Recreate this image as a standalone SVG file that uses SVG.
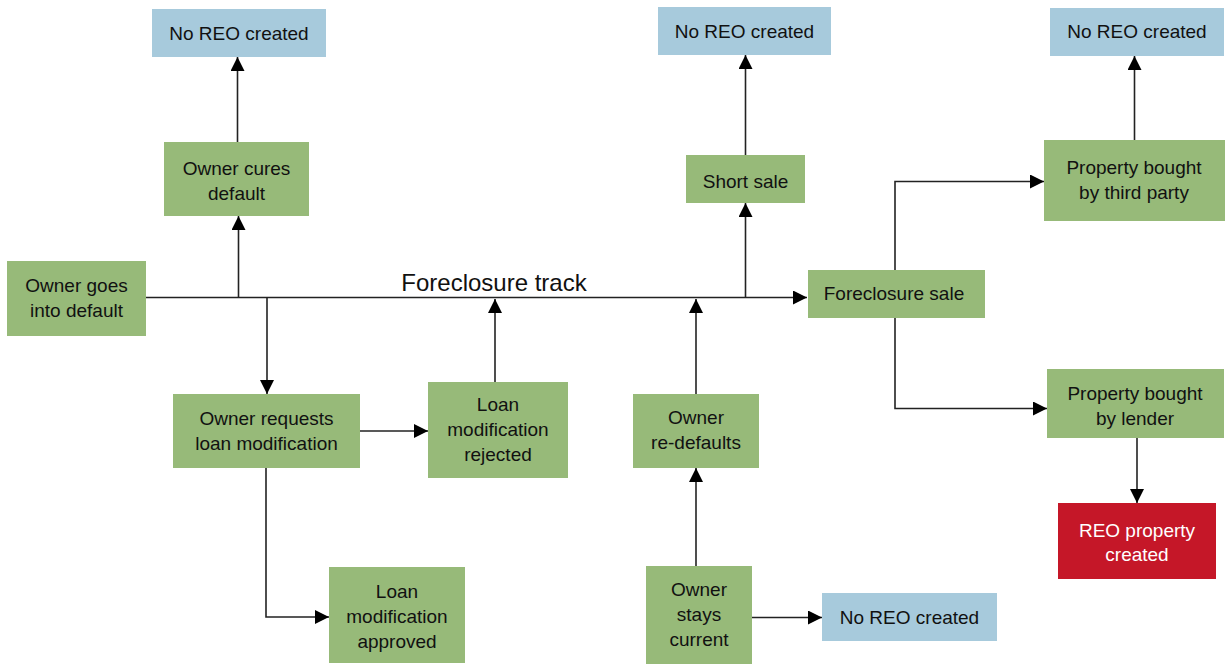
<svg xmlns="http://www.w3.org/2000/svg" width="1225" height="664" viewBox="0 0 1225 664">
<style>
.g{fill:#97ba79}
.b{fill:#a7cadc}
.r{fill:#c51728}
text{font-family:"Liberation Sans",Arial,sans-serif;font-size:19px;fill:#111;text-anchor:middle}
.w{fill:#fff}
.c{fill:none;stroke:#222;stroke-width:1.6}
</style>
<defs>
<marker id="a" markerUnits="userSpaceOnUse" markerWidth="15" markerHeight="15" refX="14" refY="7" orient="auto">
<path d="M0,0 L14,7 L0,14 z" fill="#000"/>
</marker>
</defs>
<rect width="1225" height="664" fill="#fff"/>
<g id="connectors">
<path class="c" d="M146,297.5 H807" marker-end="url(#a)"/>
<path class="c" d="M238.5,297.5 V216" marker-end="url(#a)"/>
<path class="c" d="M237.5,142 V57" marker-end="url(#a)"/>
<path class="c" d="M267,297.5 V394" marker-end="url(#a)"/>
<path class="c" d="M360,431 H428" marker-end="url(#a)"/>
<path class="c" d="M266,468 V617 H329" marker-end="url(#a)"/>
<path class="c" d="M495,382 V299" marker-end="url(#a)"/>
<path class="c" d="M696,394 V299" marker-end="url(#a)"/>
<path class="c" d="M696,566 V468" marker-end="url(#a)"/>
<path class="c" d="M752,617.5 H822" marker-end="url(#a)"/>
<path class="c" d="M745.5,297.5 V203" marker-end="url(#a)"/>
<path class="c" d="M745.5,155 V55" marker-end="url(#a)"/>
<path class="c" d="M895,270 V181.5 H1044" marker-end="url(#a)"/>
<path class="c" d="M895,318 V408.5 H1047" marker-end="url(#a)"/>
<path class="c" d="M1134.5,140 V56" marker-end="url(#a)"/>
<path class="c" d="M1137,438 V503" marker-end="url(#a)"/>
</g>
<text x="494" y="291" style="font-size:24px">Foreclosure track</text>
<g id="noreo1"><rect class="b" x="152" y="9" width="174" height="48"/><text x="239" y="40">No REO created</text></g>
<g id="cures"><rect class="g" x="164" y="142" width="145" height="74"/><text x="236.5" y="175">Owner cures</text><text x="236.5" y="200">default</text></g>
<g id="default"><rect class="g" x="7" y="261" width="139" height="75"/><text x="76.5" y="292">Owner goes</text><text x="76.5" y="317">into default</text></g>
<g id="noreo2"><rect class="b" x="658" y="7" width="173" height="48"/><text x="744.5" y="37.5">No REO created</text></g>
<g id="shortsale"><rect class="g" x="686" y="155" width="119" height="48"/><text x="745.5" y="188">Short sale</text></g>
<g id="noreo3"><rect class="b" x="1050" y="8" width="174" height="48"/><text x="1137" y="38">No REO created</text></g>
<g id="thirdparty"><rect class="g" x="1044" y="140" width="181" height="81"/><text x="1134" y="173.5">Property bought</text><text x="1134" y="198.5">by third party</text></g>
<g id="fsale"><rect class="g" x="808" y="270" width="177" height="48"/><text x="894" y="300">Foreclosure sale</text></g>
<g id="requests"><rect class="g" x="173" y="394" width="187" height="74"/><text x="266.5" y="424.5">Owner requests</text><text x="266.5" y="449.5">loan modification</text></g>
<g id="rejected"><rect class="g" x="428" y="382" width="140" height="96"/><text x="498" y="411">Loan</text><text x="498" y="436">modification</text><text x="498" y="461">rejected</text></g>
<g id="approved"><rect class="g" x="329" y="567" width="136" height="96"/><text x="397" y="598">Loan</text><text x="397" y="623">modification</text><text x="397" y="648">approved</text></g>
<g id="redefaults"><rect class="g" x="633" y="394" width="126" height="74"/><text x="696" y="424">Owner</text><text x="696" y="449">re-defaults</text></g>
<g id="stayscurrent"><rect class="g" x="646" y="566" width="106" height="98"/><text x="699" y="596">Owner</text><text x="699" y="621">stays</text><text x="699" y="646">current</text></g>
<g id="noreo4"><rect class="b" x="822" y="593" width="175" height="48"/><text x="909.5" y="623.5">No REO created</text></g>
<g id="lender"><rect class="g" x="1047" y="369" width="177" height="69"/><text x="1135" y="400">Property bought</text><text x="1135" y="424.5">by lender</text></g>
<g id="reo"><rect class="r" x="1058" y="503" width="158" height="76"/><text class="w" x="1137" y="537">REO property</text><text class="w" x="1137" y="561">created</text></g>
</svg>
